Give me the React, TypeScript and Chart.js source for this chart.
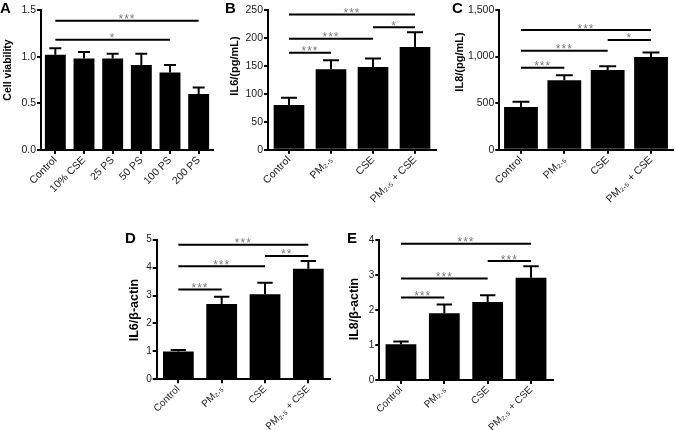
import { useEffect, useRef } from "react";
import { Chart, registerables } from "chart.js";

Chart.register(...registerables);

const FONT = "'Liberation Sans', Arial, Helvetica, sans-serif";

// ---------- data ----------
const catsA = ["Control", "10% CSE", "25 PS", "50 PS", "100 PS", "200 PS"];
const valsA = [1.02, 0.98, 0.98, 0.91, 0.83, 0.6];
const errA = [0.07, 0.07, 0.05, 0.12, 0.08, 0.07];
const sigA: [number, number, number, string][] = [
  [0, 5, 1.385, "***"],
  [0, 4, 1.18, "*"],
];

const catsPM = ["Control", "PM\u2082.\u2085", "CSE", "PM\u2082.\u2085 + CSE"];

const valsB = [80, 144, 148, 184];
const errB = [13, 16, 15, 26];
const sigB: [number, number, number, string][] = [
  [0, 3, 242, "***"],
  [2, 3, 219, "*"],
  [0, 2, 198.6, "***"],
  [0, 1, 173.6, "***"],
];

const valsC = [458, 745, 855, 995];
const errC = [58, 55, 40, 50];
const sigC: [number, number, number, string][] = [
  [0, 3, 1285, "***"],
  [2, 3, 1178, "*"],
  [0, 2, 1063, "***"],
  [0, 1, 881, "***"],
];

const valsD = [1.0, 2.7, 3.05, 3.96];
const errD = [0.05, 0.26, 0.41, 0.28];
const sigD: [number, number, number, string][] = [
  [0, 3, 4.82, "***"],
  [2, 3, 4.42, "**"],
  [0, 2, 4.05, "***"],
  [0, 1, 3.22, "***"],
];

const valsE = [1.02, 1.91, 2.23, 2.92];
const errE = [0.08, 0.25, 0.19, 0.33];
const sigE: [number, number, number, string][] = [
  [0, 3, 3.89, "***"],
  [2, 3, 3.4, "***"],
  [0, 2, 2.9, "***"],
  [0, 1, 2.36, "***"],
];

// ---------- layout specs ----------
interface Spec {
  left: number;
  top: number;
  w: number;
  h: number;
  labels: string[];
  values: number[];
  errors: number[];
  sig: [number, number, number, string][];
  min: number;
  max: number;
  step: number;
  fmt: (v: number) => string;
  title: string;
  titleX: number;
  titleY: number;
  titleSize: number;
  tickSize: number;
  letter: string;
  letterX: number;
  letterY: number;
  yW: number;
  xH: number;
  padTop: number;
  padRight: number;
  barPct: number;
  capFrac: number;
}

const fmt1 = (v: number) => v.toFixed(1);
const fmtInt = (v: number) => Math.round(v).toLocaleString("en-US");

const specs: Spec[] = [
  {
    left: 0, top: 0, w: 220, h: 215,
    labels: catsA, values: valsA, errors: errA, sig: sigA,
    min: 0, max: 1.5, step: 0.5, fmt: fmt1,
    title: "Cell viability", titleX: 8, titleY: 70, titleSize: 10.5, tickSize: 10.5,
    letter: "A", letterX: 0, letterY: 13,
    yW: 41, xH: 65, padTop: 10, padRight: 7, barPct: 0.73, capFrac: 0.57,
  },
  {
    left: 225, top: 0, w: 225, h: 215,
    labels: catsPM, values: valsB, errors: errB, sig: sigB,
    min: 0, max: 250, step: 50, fmt: fmtInt,
    title: "IL6/(pg/mL)", titleX: 10, titleY: 66, titleSize: 11, tickSize: 10.5,
    letter: "B", letterX: 0, letterY: 13,
    yW: 43, xH: 65.3, padTop: 10, padRight: 14, barPct: 0.73, capFrac: 0.52,
  },
  {
    left: 450, top: 0, w: 225, h: 215,
    labels: catsPM, values: valsC, errors: errC, sig: sigC,
    min: 0, max: 1500, step: 500, fmt: fmtInt,
    title: "IL8/(pg/mL)", titleX: 10, titleY: 62, titleSize: 11, tickSize: 10.5,
    letter: "C", letterX: 2, letterY: 13,
    yW: 49.3, xH: 65.3, padTop: 10, padRight: 2.3, barPct: 0.78, capFrac: 0.5,
  },
  {
    left: 100, top: 220, w: 235, h: 210,
    labels: catsPM, values: valsD, errors: errD, sig: sigD,
    min: 0, max: 5, step: 1, fmt: fmtInt,
    title: "IL6/\u03B2-actin", titleX: 35, titleY: 90, titleSize: 12.5, tickSize: 10,
    letter: "D", letterX: 25, letterY: 23,
    yW: 56.7, xH: 50.7, padTop: 19.7, padRight: 5, barPct: 0.71, capFrac: 0.5,
  },
  {
    left: 335, top: 220, w: 230, h: 210,
    labels: catsPM, values: valsE, errors: errE, sig: sigE,
    min: 0, max: 4, step: 1, fmt: fmtInt,
    title: "IL8/\u03B2-actin", titleX: 20, titleY: 89, titleSize: 12.5, tickSize: 10,
    letter: "E", letterX: 12, letterY: 23,
    yW: 44.3, xH: 50, padTop: 20, padRight: 12.3, barPct: 0.71, capFrac: 0.5,
  },
];

function buildConfig(s: Spec): any {
  const annot = {
    id: "annot",
    afterDatasetsDraw(chart: any) {
      const ctx: CanvasRenderingContext2D = chart.ctx;
      const xs = chart.scales.x;
      const ys = chart.scales.y;
      const meta = chart.getDatasetMeta(0);
      ctx.save();
      ctx.strokeStyle = "#000";
      ctx.lineWidth = 2;
      ctx.lineCap = "butt";
      meta.data.forEach((bar: any, i: number) => {
        const x = bar.x;
        const top = ys.getPixelForValue(s.values[i]);
        const cap = ys.getPixelForValue(s.values[i] + s.errors[i]);
        const cw = bar.width * s.capFrac;
        ctx.beginPath();
        ctx.moveTo(x, top);
        ctx.lineTo(x, cap);
        ctx.moveTo(x - cw / 2, cap);
        ctx.lineTo(x + cw / 2, cap);
        ctx.stroke();
      });
      for (const [a, b, v, t] of s.sig) {
        const x1 = xs.getPixelForValue(a);
        const x2 = xs.getPixelForValue(b);
        const yy = ys.getPixelForValue(v);
        ctx.strokeStyle = "#000";
        ctx.lineWidth = 2;
        ctx.beginPath();
        ctx.moveTo(x1, yy);
        ctx.lineTo(x2, yy);
        ctx.stroke();
        ctx.fillStyle = "#7a7a7a";
        ctx.font = `12px ${FONT}`;
        (ctx as any).letterSpacing = "1px";
        ctx.textAlign = "center";
        ctx.textBaseline = "alphabetic";
        ctx.fillText(t, (x1 + x2) / 2, yy + 2.5);
        (ctx as any).letterSpacing = "0px";
      }
      ctx.restore();
    },
    afterDraw(chart: any) {
      const ctx: CanvasRenderingContext2D = chart.ctx;
      ctx.save();
      ctx.fillStyle = "#000";
      ctx.font = `bold 15px ${FONT}`;
      ctx.textAlign = "left";
      ctx.textBaseline = "alphabetic";
      ctx.fillText(s.letter, s.letterX, s.letterY);
      ctx.translate(s.titleX, s.titleY);
      ctx.rotate(-Math.PI / 2);
      ctx.font = `bold ${s.titleSize}px ${FONT}`;
      ctx.textAlign = "center";
      ctx.textBaseline = "middle";
      ctx.fillText(s.title, 0, 0);
      ctx.restore();
    },
  };

  return {
    type: "bar",
    data: {
      labels: s.labels,
      datasets: [
        {
          data: s.values,
          backgroundColor: "#000",
          borderWidth: 0,
          barPercentage: s.barPct,
          categoryPercentage: 1,
        },
      ],
    },
    options: {
      responsive: false,
      animation: false,
      devicePixelRatio: 1,
      layout: { padding: { left: 0, right: s.padRight, top: s.padTop, bottom: 0 } },
      plugins: {
        legend: { display: false },
        tooltip: { enabled: false },
        title: { display: false },
      },
      scales: {
        x: {
          ticks: {
            autoSkip: false,
            minRotation: 45,
            maxRotation: 45,
            color: "#222",
            padding: 0,
            font: { family: FONT, size: s.tickSize },
          },
          grid: {
            offset: false,
            drawOnChartArea: false,
            drawTicks: true,
            tickLength: 4,
            color: "#000",
            lineWidth: 2,
          },
          border: { display: true, color: "#000", width: 2 },
          afterFit: (sc: any) => {
            sc.height = s.xH;
          },
        },
        y: {
          min: s.min,
          max: s.max,
          ticks: {
            stepSize: s.step,
            color: "#222",
            padding: 1,
            font: { family: FONT, size: s.tickSize },
            callback: (v: any) => s.fmt(Number(v)),
          },
          grid: {
            drawOnChartArea: false,
            drawTicks: true,
            tickLength: 4,
            color: "#000",
            lineWidth: 2,
          },
          border: { display: true, color: "#000", width: 2 },
          afterFit: (sc: any) => {
            sc.width = s.yW;
          },
        },
      },
    },
    plugins: [annot],
  };
}

function Panel({ spec }: { spec: Spec }) {
  const ref = useRef<HTMLCanvasElement>(null);
  useEffect(() => {
    if (!ref.current) return;
    const chart = new Chart(ref.current, buildConfig(spec));
    return () => chart.destroy();
  }, [spec]);
  return (
    <canvas
      ref={ref}
      width={spec.w}
      height={spec.h}
      style={{
        position: "absolute",
        left: spec.left,
        top: spec.top,
        width: spec.w,
        height: spec.h,
      }}
    />
  );
}

export default function App() {
  return (
    <div
      style={{
        position: "absolute",
        left: 0,
        top: 0,
        width: 675,
        height: 430,
        background: "#fff",
        overflow: "hidden",
      }}
    >
      {specs.map((s) => (
        <Panel key={s.letter} spec={s} />
      ))}
    </div>
  );
}
